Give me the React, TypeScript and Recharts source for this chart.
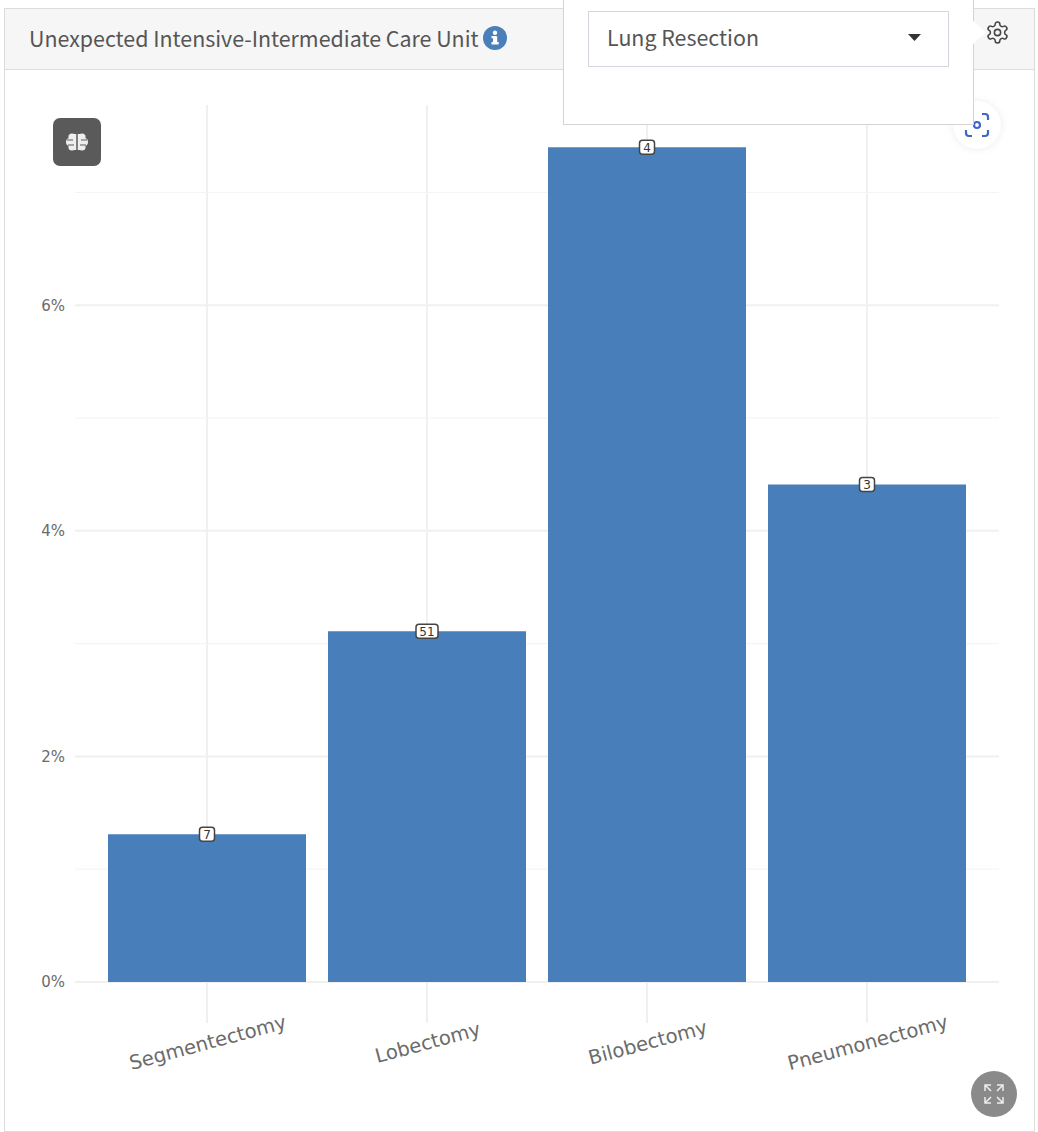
import React from 'react';
import { BarChart, Bar, XAxis, YAxis, CartesianGrid, LabelList } from 'recharts';

const categories = ['Segmentectomy', 'Lobectomy', 'Bilobectomy', 'Pneumonectomy'];
const percentages = [1.31, 3.11, 7.4, 4.41];
const counts = [7, 51, 4, 3];
const yTicks = [0, 1, 2, 3, 4, 5, 6, 7];
const majorY = [0, 2, 4, 6];
const minorY = [1, 3, 5, 7];
const TITLE = 'Unexpected Intensive-Intermediate Care Unit';
const SELECTED = 'Lung Resection';

const rows = categories.map((category, i) => ({ category, pct: percentages[i], n: counts[i] }));
const PY = 105, PB = 982;
const pxOf = (v: number) => PB - (v * (PB - PY)) / 7.775;
const UI_FONT = '"Noto Sans CJK SC", "Noto Sans"';

const XTick = (p: any) => (
  <text x={0} y={0} transform={`translate(${p.x + 2.5},${p.y + 24}) rotate(-15)`} textAnchor="middle"
    fontFamily="DejaVu Sans" fontSize={19.6} fill="#6b6b6b">{p.payload.value}</text>
);

const CountLabel = (p: any) => {
  const s = String(p.value);
  const w = s.length * 7 + 8;
  const cx = p.x + p.width / 2;
  return (
    <g>
      <rect x={cx - w / 2} y={p.y - 7} width={w} height={14} rx={3} fill="#fff" stroke="#444" strokeWidth={1.5} />
      <text x={cx} y={p.y + 4.5} textAnchor="middle" fontFamily="DejaVu Sans" fontSize={12} fill="#333">{s}</text>
    </g>
  );
};

const box = (o: React.CSSProperties): React.CSSProperties => ({ position: 'absolute', boxSizing: 'border-box', ...o });

export default function App() {
  return (
    <div style={box({ left: 0, top: 0, width: 1038, height: 1132, background: '#fff', overflow: 'hidden' })}>
      <div style={box({ left: 4, top: 8, width: 1031, height: 1124, border: '1.5px solid #dcdcdc' })} />
      <div style={box({ left: 5, top: 9, width: 1029, height: 61, background: '#f6f6f6', borderBottom: '1.5px solid #dcdcdc' })} />
      <div style={box({ left: 29, top: 23, fontFamily: UI_FONT, fontSize: 21.4, color: '#555', whiteSpace: 'nowrap', lineHeight: '30px' })}>{TITLE}</div>
      <svg style={box({ left: 483, top: 26 })} width={24} height={24}>
        <circle cx={12} cy={12} r={12} fill="#4a7fba" />
        <rect x={10} y={10.5} width={4.2} height={7.5} fill="#fff" />
        <rect x={8.5} y={16} width={7.2} height={2.5} fill="#fff" />
        <rect x={8.5} y={10} width={5} height={2.2} fill="#fff" />
        <circle cx={12} cy={6.8} r={2.2} fill="#fff" />
      </svg>

      <div style={box({ left: 0, top: 0 })}>
        <BarChart width={1038} height={1132} data={rows} margin={{ left: 15, right: 39, top: PY, bottom: 60 }} barCategoryGap="5%">
          <CartesianGrid horizontal={false} vertical syncWithTicks stroke="#f0f0f0" strokeWidth={2} />
          <CartesianGrid vertical={false} horizontalPoints={majorY.map(pxOf)} stroke="#f0f0f0" strokeWidth={2} />
          <CartesianGrid vertical={false} horizontalPoints={minorY.map(pxOf)} stroke="#f3f3f3" strokeWidth={1} />
          <XAxis dataKey="category" axisLine={false} height={90} tickSize={41} tickLine={{ stroke: '#f0f0f0', strokeWidth: 2 }}
            padding={{ left: 22, right: 22 }} tick={<XTick />} interval={0} />
          <YAxis width={60} domain={[0, 7.775]} allowDataOverflow ticks={yTicks} interval={0} axisLine={false} tickLine={false}
            tickSize={0} tickMargin={10} tickFormatter={(v: number) => (v % 2 === 0 ? `${v}%` : '')}
            tick={{ fontFamily: 'DejaVu Sans', fontSize: 15, fill: '#6b6b6b' }} />
          <Bar dataKey="pct" fill="#487fba" isAnimationActive={false}>
            <LabelList dataKey="n" content={<CountLabel />} />
          </Bar>
        </BarChart>
      </div>

      <svg style={box({ left: 53, top: 118 })} width={48} height={48}>
        <rect width={48} height={48} rx={7} fill="#5a5a5a" />
        <g fill="#eee">
          <circle cx={19} cy={19} r={3.6} /><circle cx={17} cy={24} r={4} /><circle cx={19} cy={29} r={3.6} />
          <circle cx={29} cy={19} r={3.6} /><circle cx={31} cy={24} r={4} /><circle cx={29} cy={29} r={3.6} />
          <rect x={18.5} y={16} width={5} height={16} /><rect x={24.5} y={16} width={5} height={16} />
        </g>
        <path d="M24 14v20M14 22h6M15 27h6M34 22h-6M33 27h-6" stroke="#5a5a5a" strokeWidth={1} fill="none" />
      </svg>

      <div style={box({ left: 953, top: 101, width: 48, height: 48, borderRadius: 24, background: '#fff', boxShadow: '0 0 8px rgba(0,0,0,0.08)' })} />
      <svg style={box({ left: 964, top: 112 })} width={26} height={26} fill="none" stroke="#3f66c8" strokeWidth={2.2}>
        <path d="M2 8V5a3 3 0 0 1 3-3h3M18 2h3a3 3 0 0 1 3 3v3M24 18v3a3 3 0 0 1-3 3h-3M8 24H5a3 3 0 0 1-3-3v-3" />
        <circle cx={13} cy={13} r={3} />
      </svg>

      <div style={box({ left: 563, top: -2, width: 411, height: 127, background: '#fff', border: '1.5px solid #d4d4d4' })} />
      <svg style={box({ left: 972, top: 18 })} width={16} height={30}>
        <polygon points="0,2 14,14.5 0,27" fill="#fff" />
      </svg>
      <div style={box({ left: 588, top: 11, width: 361, height: 55.5, border: '1.5px solid #d3d8e0', background: '#fff' })} />
      <div style={box({ left: 607, top: 22, fontFamily: UI_FONT, fontSize: 21.4, color: '#555', lineHeight: '30px', whiteSpace: 'nowrap' })}>{SELECTED}</div>
      <svg style={box({ left: 908, top: 33 })} width={14} height={9}>
        <polygon points="0,1 13,1 6.5,8" fill="#333" />
      </svg>
      <svg style={box({ left: 985, top: 20 })} width={25} height={25} viewBox="0 0 24 24" fill="none" stroke="#444" strokeWidth={1.5}>
        <path d="M12.22 2h-.44a2 2 0 0 0-2 2v.18a2 2 0 0 1-1 1.73l-.43.25a2 2 0 0 1-2 0l-.15-.08a2 2 0 0 0-2.73.73l-.22.38a2 2 0 0 0 .73 2.73l.15.1a2 2 0 0 1 1 1.72v.51a2 2 0 0 1-1 1.74l-.15.09a2 2 0 0 0-.73 2.73l.22.38a2 2 0 0 0 2.73.73l.15-.08a2 2 0 0 1 2 0l.43.25a2 2 0 0 1 1 1.73V20a2 2 0 0 0 2 2h.44a2 2 0 0 0 2-2v-.18a2 2 0 0 1 1-1.73l.43-.25a2 2 0 0 1 2 0l.15.08a2 2 0 0 0 2.73-.73l.22-.39a2 2 0 0 0-.73-2.73l-.15-.08a2 2 0 0 1-1-1.74v-.5a2 2 0 0 1 1-1.74l.15-.09a2 2 0 0 0 .73-2.73l-.22-.38a2 2 0 0 0-2.73-.73l-.15.08a2 2 0 0 1-2 0l-.43-.25a2 2 0 0 1-1-1.73V4a2 2 0 0 0-2-2z" />
        <circle cx={12} cy={12} r={3} />
      </svg>

      <svg style={box({ left: 971, top: 1071 })} width={46} height={46} fill="none" stroke="#eee" strokeWidth={1.5}>
        <circle cx={23} cy={23} r={23} fill="#8a8a8a" stroke="none" />
        <path d="M14 20v-6h6M14 14l6 6M32 20v-6h-6M32 14l-6 6M14 26v6h6M14 32l6-6M32 26v6h-6M32 32l-6-6" />
      </svg>
    </div>
  );
}
